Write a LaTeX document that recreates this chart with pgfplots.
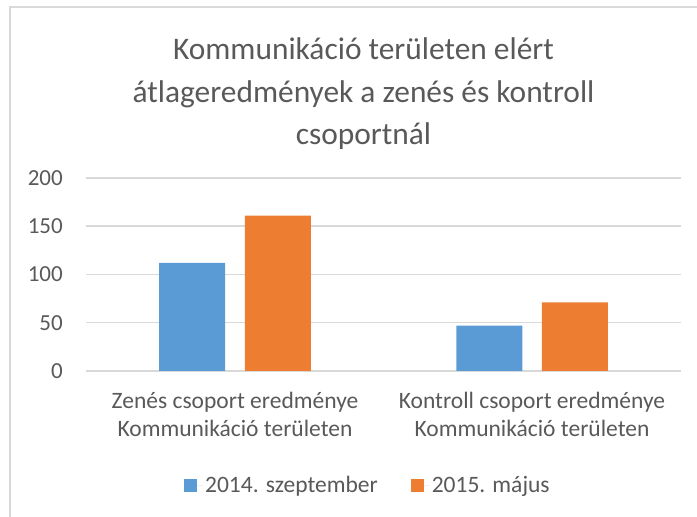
\documentclass[border=0pt]{standalone}
\usepackage{pgfplots}
\pgfplotsset{compat=1.18}
\usepackage{fontspec}
\setmainfont{Carlito}
\definecolor{txt}{HTML}{595959}
\definecolor{gridc}{HTML}{D9D9D9}
\definecolor{bblue}{HTML}{5B9BD5}
\definecolor{borange}{HTML}{ED7D31}
\begin{document}
\begin{tikzpicture}[x=1pt,y=1pt]
\useasboundingbox (0,0) rectangle (697,517);
\draw[gridc, line width=2pt] (10,0) -- (10,510) -- (698,510);
\node[anchor=base, text=txt, font=\fontsize{31.4}{38}\selectfont, inner sep=0pt] at (363.5,457) {Kommunikáció területen elért};
\node[anchor=base, text=txt, font=\fontsize{31.4}{38}\selectfont, inner sep=0pt] at (363.5,414) {átlageredmények a zenés és kontroll};
\node[anchor=base, text=txt, font=\fontsize{31.4}{38}\selectfont, inner sep=0pt] at (363.5,372) {csoportnál};
\begin{axis}[
  at={(86.5pt,146pt)}, anchor=south west,
  scale only axis, width=594pt, height=193pt,
  xmin=-0.5, xmax=1.5, ymin=0, ymax=200,
  ybar=19.5pt, bar width=66pt,
  xtick={0,1},
  xticklabels={{Zenés csoport eredménye\\Kommunikáció területen},{Kontroll csoport eredménye\\Kommunikáció területen}},
  xticklabel style={align=center, font=\fontsize{23.5}{28.3}\selectfont, text=txt, yshift=-13pt},
  ytick={0,50,...,200},
  yticklabel style={font=\fontsize{23}{27}\selectfont, text=txt, inner sep=0pt, anchor=east, xshift=-23.5pt},
  /pgf/number format/assume math mode=true,
  ymajorgrids, grid style={gridc, line width=1.5pt},
  axis line style={draw=none}, tick style={draw=none},
  legend columns=2,
  legend style={at={(0.1641,-0.5907)}, anchor=west, draw=none, inner sep=0pt,
    font=\fontsize{23.5}{28}\selectfont, text=txt,
    /tikz/every even column/.append style={column sep=31pt}},
  legend image code/.code={\fill[#1] (0pt,-6.5pt) rectangle (13pt,6.5pt); \path (0pt,0pt) -- (19pt,0pt);},
]
\addplot[fill=bblue, draw=none] coordinates {(0,112) (1,47)};
\addplot[fill=borange, draw=none] coordinates {(0,161) (1,71)};
\legend{2014. szeptember, 2015. május}
\end{axis}
\end{tikzpicture}
\end{document}
